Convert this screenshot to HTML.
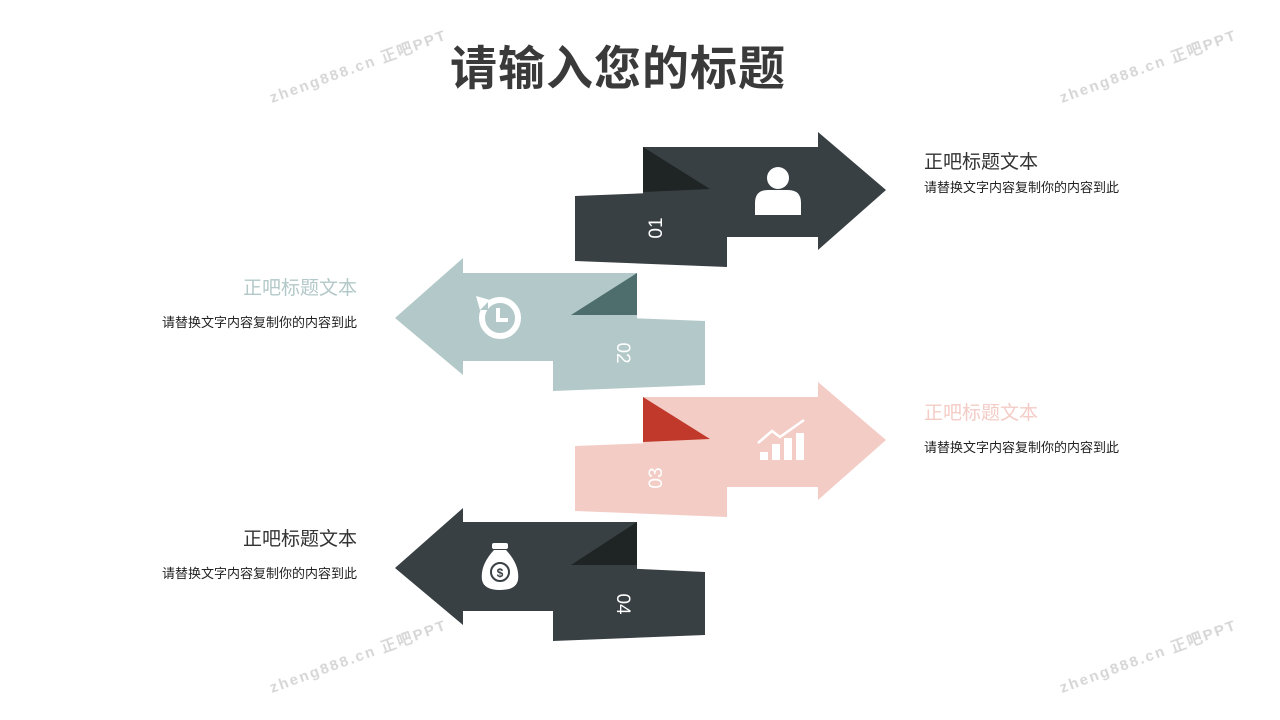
<!DOCTYPE html>
<html><head><meta charset="utf-8"><style>
body{margin:0;width:1280px;height:720px;background:#fff;position:relative;overflow:hidden;font-family:"Liberation Sans","Noto Sans CJK SC",sans-serif}
.t{position:absolute;white-space:nowrap}
.h{font-size:19px}
.s{font-size:13px;color:#222}
</style></head><body>
<div class="t" style="left:450px;top:30px;font-size:47px;font-weight:bold;color:#3a3a3a;letter-spacing:1px">请输入您的标题</div>
<svg width="1280" height="720" style="position:absolute;left:0;top:0">
<polygon points="643,147 818,147 818,132 886,190 818,250 818,237 643,237" fill="#394043"/>
<polygon points="643,147 643,192 710,189" fill="#1f2424"/>
<polygon points="575,196 727,190 727,267 575,261" fill="#394043"/>
<text transform="translate(662,228) rotate(-90)" fill="#fff" font-size="19" text-anchor="middle" font-family="Liberation Sans">01</text>
<circle cx="778" cy="178" r="11" fill="#fff"/><path d="M755,215 L755,203 Q755,190 768,190 L788,190 Q801,190 801,203 L801,215 Z" fill="#fff"/>
<polygon points="637,273 463,273 463,258 395,318 463,375 463,361 637,361" fill="#b3c8c8"/>
<polygon points="637,273 637,315 571,315" fill="#4e6e6e"/>
<polygon points="553,315 705,321 705,385 553,391" fill="#b3c8c8"/>
<text transform="translate(617,353) rotate(90)" fill="#fff" font-size="19" text-anchor="middle" font-family="Liberation Sans">02</text>
<circle cx="500" cy="318" r="18" fill="none" stroke="#fff" stroke-width="6"/><path d="M498,308 L498,320 L508,320" fill="none" stroke="#fff" stroke-width="4"/><rect x="478" y="298" width="10" height="12" fill="#b3c8c8"/><polygon points="476,296 490,300 480,310" fill="#fff"/>
<polygon points="643,397 818,397 818,382 886,440 818,500 818,487 643,487" fill="#f4ccc6"/>
<polygon points="643,397 643,442 710,439" fill="#c0392b"/>
<polygon points="575,446 727,440 727,517 575,511" fill="#f4ccc6"/>
<text transform="translate(662,478) rotate(-90)" fill="#fff" font-size="19" text-anchor="middle" font-family="Liberation Sans">03</text>
<rect x="760" y="452" width="8" height="8" fill="#fff"/><rect x="772" y="444" width="8" height="16" fill="#fff"/><rect x="784" y="438" width="8" height="22" fill="#fff"/><rect x="796" y="433" width="8" height="27" fill="#fff"/>
<polyline points="758,443 772,431 780,437 804,420" fill="none" stroke="#fff" stroke-width="2.5"/>
<polygon points="637,522 463,522 463,508 395,568 463,625 463,611 637,611" fill="#394043"/>
<polygon points="637,522 637,565 571,565" fill="#1f2424"/>
<polygon points="553,565 705,572 705,635 553,641" fill="#394043"/>
<text transform="translate(617,604) rotate(90)" fill="#fff" font-size="19" text-anchor="middle" font-family="Liberation Sans">04</text>
<rect x="492" y="543" width="16" height="6" rx="2" fill="#fff"/><path d="M494,550 L506,550 Q520,565 518,580 Q516,590 500,590 Q484,590 482,580 Q480,565 494,550Z" fill="#fff"/>
<circle cx="500" cy="572" r="9" fill="none" stroke="#394043" stroke-width="2"/><text x="500" y="577" fill="#394043" font-size="12" text-anchor="middle" font-family="Liberation Sans" font-weight="bold">$</text>
<g fill="#ccc" font-size="15" font-family="Liberation Sans" font-weight="bold" opacity="0.8" letter-spacing="2">
<text transform="translate(272,103) rotate(-20)">zheng888.cn 正吧PPT</text>
<text transform="translate(1062,103) rotate(-20)">zheng888.cn 正吧PPT</text>
<text transform="translate(272,693) rotate(-20)">zheng888.cn 正吧PPT</text>
<text transform="translate(1062,693) rotate(-20)">zheng888.cn 正吧PPT</text>
</g>
</svg>
<div class="t h" style="left:924px;top:147px;color:#333">正吧标题文本</div>
<div class="t s" style="left:924px;top:177px">请替换文字内容复制你的内容到此</div>
<div class="t h" style="right:923px;top:273px;color:#b3c8c8">正吧标题文本</div>
<div class="t s" style="right:923px;top:312px">请替换文字内容复制你的内容到此</div>
<div class="t h" style="left:924px;top:398px;color:#f4ccc6">正吧标题文本</div>
<div class="t s" style="left:924px;top:437px">请替换文字内容复制你的内容到此</div>
<div class="t h" style="right:923px;top:524px;color:#333">正吧标题文本</div>
<div class="t s" style="right:923px;top:563px">请替换文字内容复制你的内容到此</div>
</body></html>
